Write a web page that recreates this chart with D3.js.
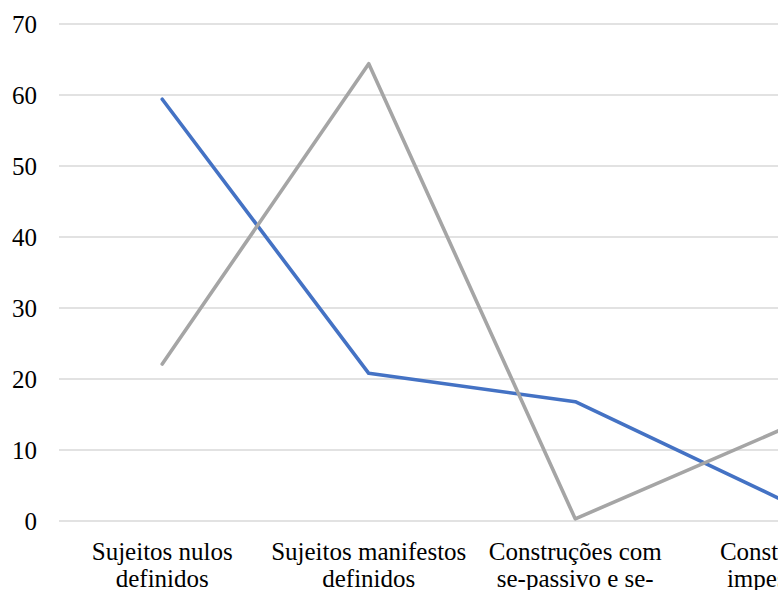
<!DOCTYPE html>
<html>
<head>
<meta charset="utf-8">
<script src="https://cdn.jsdelivr.net/npm/d3@7"></script>
<style>
  html, body { margin: 0; padding: 0; background: #fff; overflow: hidden; }
  svg { display: block; }
</style>
</head>
<body>
<svg id="chart"></svg>
<script>
// Categories along the x axis
const categories = [
  "Sujeitos nulos definidos",
  "Sujeitos manifestos definidos",
  "Construções com se-passivo e se-indeterminado",
  "Construções impessoais"
];

// Two series (percentages)
const seriesBlue = [59.4, 20.8, 16.8, 3.0];
const seriesGray = [22.1, 64.4, 0.3, 12.9];

// Y axis ticks
const yTicks = [0, 10, 20, 30, 40, 50, 60, 70];

const FONT = "'Liberation Serif', 'DejaVu Serif', serif";
const width = 900, height = 650;
const margin = { top: 24, left: 59 };
const band = 206.5;
const plotW = band * categories.length;
const plotBottom = 521;

const svg = d3.select("#chart").attr("width", width).attr("height", height);

const x = d3.scalePoint()
  .domain(categories)
  .range([margin.left, margin.left + plotW])
  .padding(0.5);

const y = d3.scaleLinear().domain([0, 70]).range([plotBottom, margin.top]);

// Horizontal gridlines
svg.append("g").selectAll("line")
  .data(yTicks)
  .join("line")
  .attr("x1", margin.left).attr("x2", margin.left + plotW)
  .attr("y1", d => y(d)).attr("y2", d => y(d))
  .attr("stroke", "#d9d9d9").attr("stroke-width", 1.3);

// Y axis labels
const yAxis = d3.axisLeft(y).tickValues(yTicks).tickSize(0).tickPadding(0).tickFormat(d3.format("d"));
const gy = svg.append("g").attr("transform", "translate(37,0)").call(yAxis);
gy.attr("font-family", null).attr("font-size", null);
gy.select(".domain").remove();
gy.selectAll("text")
  .style("font-family", FONT)
  .style("font-size", "25px")
  .attr("fill", "#000");

// Category labels, wrapped at spaces and after hyphens
const wrapWidth = 200;
const lineHeight = 27;
const labels = svg.append("g")
  .style("font-family", FONT)
  .style("font-size", "25px")
  .attr("text-anchor", "middle")
  .attr("fill", "#000");

categories.forEach(cat => {
  const t = labels.append("text").attr("x", x(cat)).attr("y", 560);
  const pieces = cat.split(" ").flatMap((w, i, arr) => {
    const parts = w.match(/[^-]+-?|-/g);
    return parts.map((p, j) => ({ text: p, spaceAfter: j === parts.length - 1 && i < arr.length - 1 }));
  });
  const lines = [];
  let current = "";
  const probe = t.append("tspan");
  pieces.forEach(p => {
    const candidate = current + p.text;
    probe.text(candidate.trim());
    if (current && probe.node().getComputedTextLength() > wrapWidth) {
      lines.push(current.trim());
      current = p.text + (p.spaceAfter ? " " : "");
    } else {
      current = candidate + (p.spaceAfter ? " " : "");
    }
  });
  if (current.trim()) lines.push(current.trim());
  probe.remove();
  lines.forEach((ln, i) => {
    t.append("tspan").attr("x", x(cat)).attr("y", 560 + i * lineHeight).text(ln);
  });
});

// Lines
const line = d3.line()
  .x((d, i) => x(categories[i]))
  .y(d => y(d));

svg.append("path")
  .datum(seriesBlue)
  .attr("fill", "none")
  .attr("stroke", "#4472C4")
  .attr("stroke-width", 3.6)
  .attr("stroke-linejoin", "round")
  .attr("stroke-linecap", "round")
  .attr("d", line);

svg.append("path")
  .datum(seriesGray)
  .attr("fill", "none")
  .attr("stroke", "#A5A5A5")
  .attr("stroke-width", 3.6)
  .attr("stroke-linejoin", "round")
  .attr("stroke-linecap", "round")
  .attr("d", line);
</script>
</body>
</html>
